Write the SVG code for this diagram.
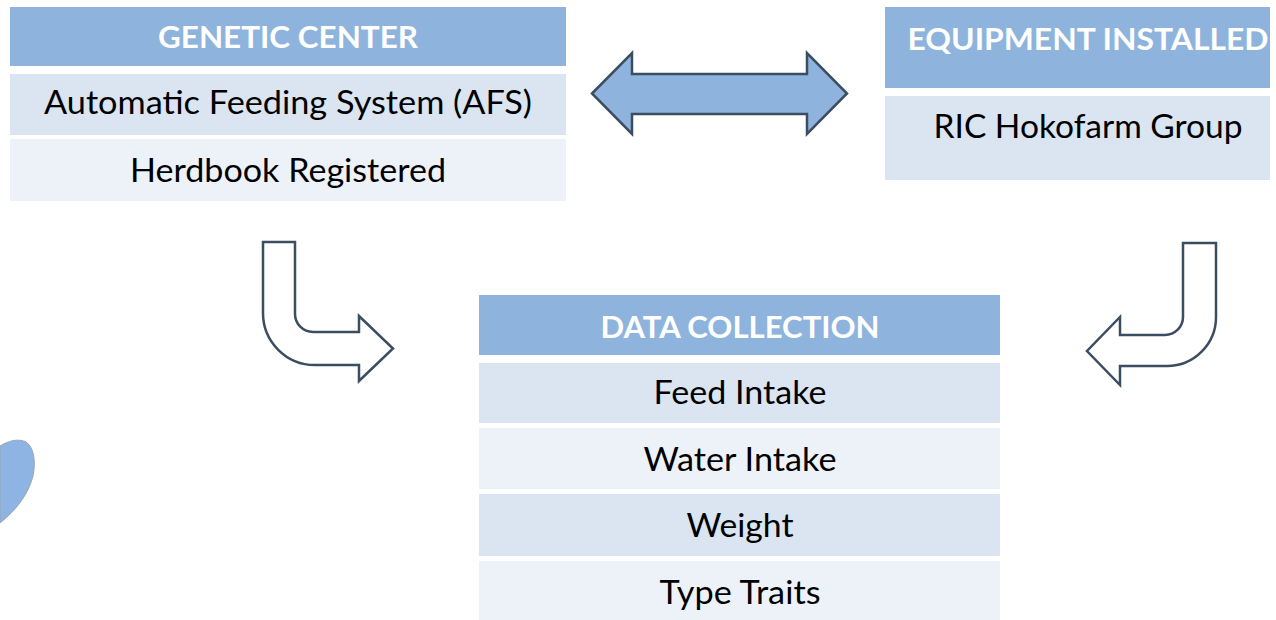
<svg xmlns="http://www.w3.org/2000/svg" width="1276" height="620" viewBox="0 0 1276 620">
  <style>
    .hdr { fill: #8eb4dd; }
    .rowA { fill: #dbe5f1; }
    .rowB { fill: #edf2f9; }
    .title { font-family: Lato, "Liberation Sans", sans-serif; font-weight: bold; font-size: 31px; fill: #ffffff; text-anchor: middle; }
    .item { font-family: Lato, "Liberation Sans", sans-serif; font-size: 32px; fill: #000000; text-anchor: middle; }
    .bent { fill: #ffffff; stroke: #3b4d61; stroke-width: 2.5; stroke-linejoin: miter; }
  </style>

  <!-- decorative blue leaf at the left edge -->
  <path d="M0,446 C8,441 18,438 26,442 C34,447 36,462 33,476 C28,496 14,512 0,523 Z" fill="#8eb4e3" stroke="#9aa6b4" stroke-width="1"/>

  <g id="genetic-center">
    <rect class="hdr" x="10" y="7" width="556" height="59"/>
    <text class="title" x="288" y="48" textLength="260" lengthAdjust="spacingAndGlyphs">GENETIC CENTER</text>
    <rect class="rowA" x="10" y="74" width="556" height="61"/>
    <text class="item" x="288" y="114" textLength="488" lengthAdjust="spacingAndGlyphs">Automatic Feeding System (AFS)</text>
    <rect class="rowB" x="10" y="139" width="556" height="62"/>
    <text class="item" x="288" y="182" textLength="316" lengthAdjust="spacingAndGlyphs">Herdbook Registered</text>
  </g>

  <g id="equipment-installed">
    <rect class="hdr" x="885" y="7" width="385" height="81"/>
    <text class="title" x="1088" y="50" textLength="361" lengthAdjust="spacingAndGlyphs">EQUIPMENT INSTALLED</text>
    <rect class="rowA" x="885" y="96" width="385" height="84"/>
    <text class="item" x="1088" y="138" textLength="309" lengthAdjust="spacingAndGlyphs">RIC Hokofarm Group</text>
  </g>

  <g id="data-collection">
    <rect class="hdr" x="479" y="295" width="521" height="60"/>
    <text class="title" x="740" y="338" textLength="279" lengthAdjust="spacingAndGlyphs">DATA COLLECTION</text>
    <rect class="rowA" x="479" y="363" width="521" height="60"/>
    <text class="item" x="740" y="404" textLength="173" lengthAdjust="spacingAndGlyphs">Feed Intake</text>
    <rect class="rowB" x="479" y="428" width="521" height="61"/>
    <text class="item" x="740" y="471" textLength="193" lengthAdjust="spacingAndGlyphs">Water Intake</text>
    <rect class="rowA" x="479" y="494" width="521" height="62"/>
    <text class="item" x="740" y="537" textLength="107" lengthAdjust="spacingAndGlyphs">Weight</text>
    <rect class="rowB" x="479" y="561" width="521" height="59"/>
    <text class="item" x="740" y="604" textLength="161" lengthAdjust="spacingAndGlyphs">Type Traits</text>
  </g>

  <g id="connectors">
    <!-- two-way block arrow between the top boxes -->
    <path d="M592,93.5 L632,53 V74 H807 V53 L847,93.5 L807,134 V114 H632 V134 Z" fill="#8eb4dd" stroke="#3b4d61" stroke-width="2.5" stroke-linejoin="miter"/>
    <!-- bent arrow from genetic center down into data collection -->
    <path class="bent" d="M263,242 H295 V314 A18,18 0 0 0 313,332 H359 V316 L393,348.5 L359,381 V365 H315 A52,52 0 0 1 263,313 Z"/>
    <!-- bent arrow from equipment installed down into data collection -->
    <path class="bent" d="M1183,243 H1216 V317 A49,49 0 0 1 1167,366 H1120 V385 L1087,351 L1120,317 V335 H1165 A18,18 0 0 0 1183,317 Z"/>
  </g>
</svg>
